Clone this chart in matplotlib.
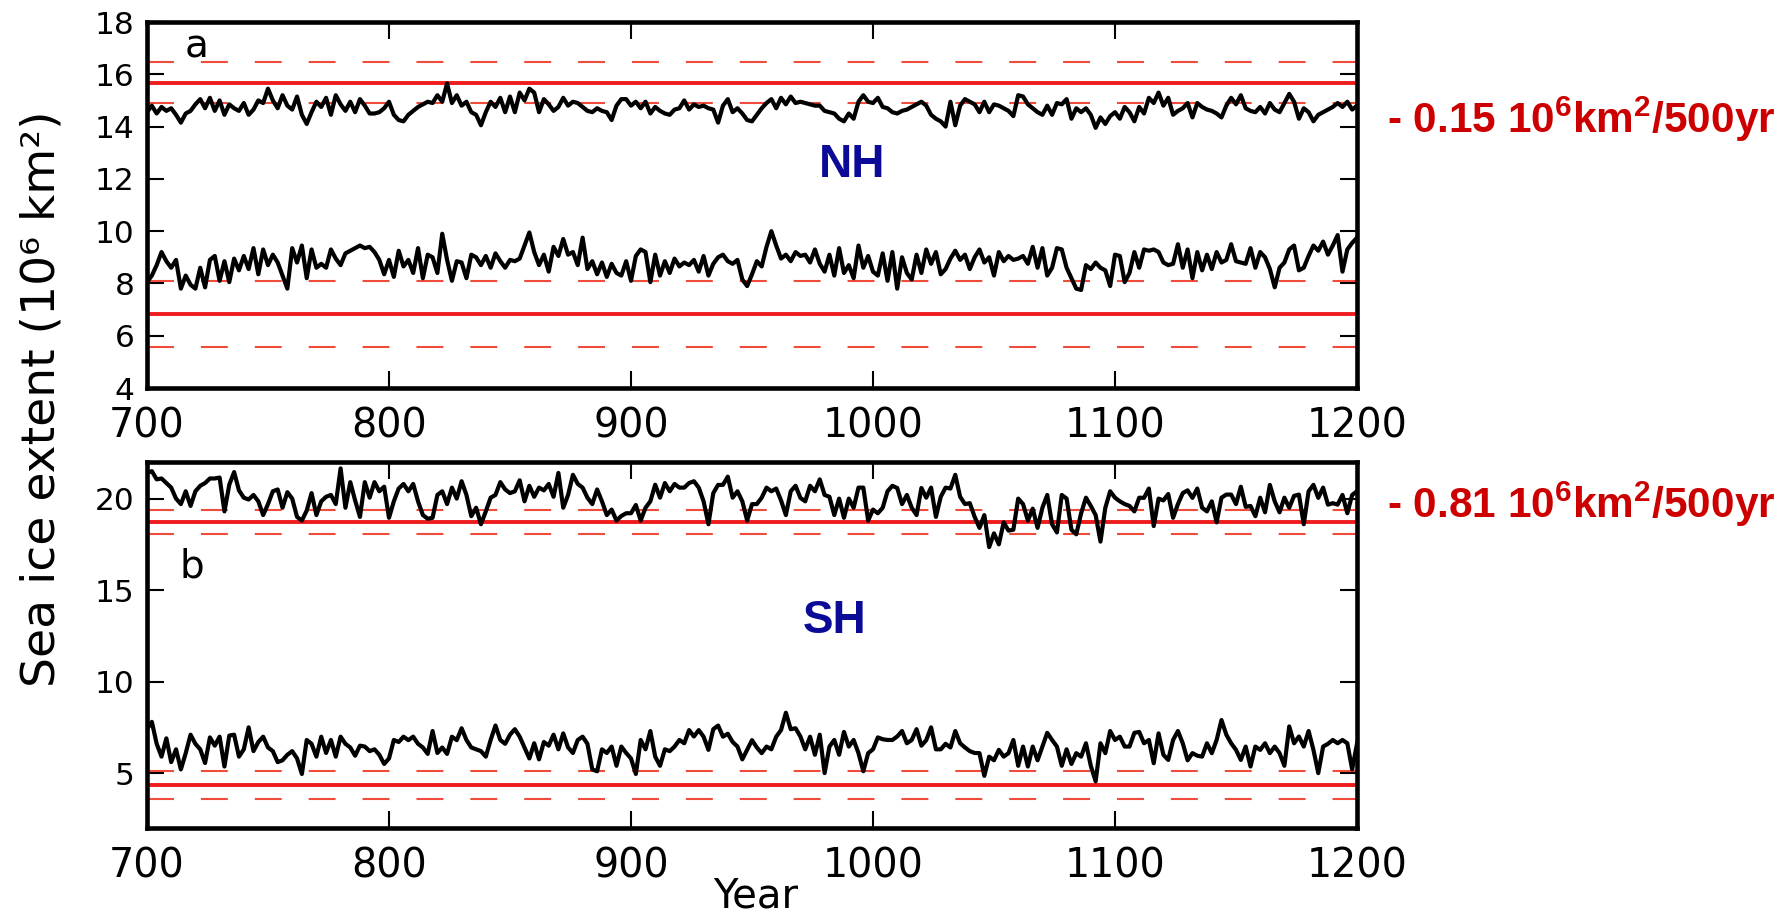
import numpy as np
import matplotlib
matplotlib.use("Agg")
import matplotlib.pyplot as plt

W, H = 1787, 918

# ---------------- data (2-year steps, 700..1200) ----------------
nh_upper = [
14.55,14.80,14.50,14.75,14.60,14.70,14.45,14.15,14.50,14.60,14.85,15.05,14.70,15.10,14.60,15.00,
14.45,14.85,14.70,14.60,14.90,14.45,14.65,15.00,14.90,15.45,15.00,14.70,15.20,14.80,14.65,15.15,
14.45,14.10,14.55,14.95,14.75,15.10,14.45,15.20,14.85,14.60,14.95,14.55,15.05,14.80,14.50,14.50,
14.55,14.70,14.95,14.45,14.25,14.20,14.45,14.60,14.75,14.85,14.95,14.90,15.20,14.95,15.65,14.90,
15.20,14.80,14.95,14.55,14.45,14.05,14.55,14.95,14.75,15.10,14.55,15.15,14.55,15.30,15.00,15.45,
15.30,14.55,15.05,14.85,14.60,14.75,15.10,14.80,14.95,14.90,14.75,14.60,14.55,14.70,14.60,14.55,
14.25,14.80,15.05,15.05,14.80,14.95,14.70,14.95,14.50,14.75,14.60,14.50,14.45,14.65,14.70,15.00,
14.65,14.85,14.75,14.80,14.70,14.65,14.15,14.80,15.05,14.55,14.70,14.50,14.25,14.20,14.45,14.70,
14.90,15.05,14.70,15.10,14.85,15.15,14.90,14.95,14.90,14.85,14.80,14.80,14.60,14.55,14.50,14.30,
14.20,14.50,14.30,14.95,15.20,14.95,14.90,15.10,14.75,14.70,14.55,14.50,14.60,14.65,14.75,14.85,
14.95,14.80,14.45,14.30,14.20,14.00,14.95,14.05,14.80,15.05,14.95,14.85,14.55,14.95,14.55,14.85,
14.80,14.70,14.60,14.40,15.20,15.15,14.85,14.70,14.55,14.45,14.80,14.45,14.90,14.85,15.05,14.30,
14.70,14.55,14.70,14.45,13.95,14.35,14.10,14.40,14.55,14.30,14.75,14.55,14.20,14.75,14.50,15.10,
14.90,15.30,14.80,15.10,14.45,14.60,14.70,14.90,14.35,14.90,14.75,14.65,14.60,14.50,14.35,14.80,
15.10,14.85,15.20,14.70,14.60,14.55,14.75,14.50,14.90,14.65,14.55,14.90,15.25,14.95,14.30,14.70,
14.55,14.20,14.45,14.55,14.65,14.75,14.90,14.75,14.95,14.65,14.80]

nh_lower = [
8.05,8.30,8.70,9.20,8.85,8.60,8.90,7.80,8.30,7.95,7.80,8.60,7.85,8.90,9.05,8.10,
8.85,8.05,8.95,8.50,9.05,8.55,9.35,8.35,9.30,8.70,9.10,8.80,8.30,7.80,9.35,8.80,
9.45,8.20,9.30,8.60,8.75,8.60,9.30,8.95,8.70,9.15,9.25,9.35,9.45,9.35,9.40,9.20,
8.90,8.35,8.90,8.25,9.25,8.65,8.90,8.40,9.35,8.20,9.10,9.00,8.40,9.90,8.90,8.10,
8.85,8.80,8.20,9.10,9.00,8.70,9.05,8.60,9.15,8.85,8.60,8.90,8.85,8.95,9.45,9.95,
9.20,8.70,9.10,8.45,9.40,9.05,9.70,9.10,9.20,8.70,9.75,8.55,8.85,8.35,8.80,8.25,
8.75,8.40,8.30,8.85,8.10,9.05,9.30,9.20,8.05,9.10,8.30,8.85,8.40,8.95,8.65,8.80,
8.70,8.90,8.45,9.05,8.30,8.75,9.00,9.10,8.85,8.75,8.90,8.15,7.90,8.35,8.85,8.65,
9.40,10.00,9.45,8.95,9.10,8.85,9.20,9.05,9.10,8.80,9.30,8.75,8.45,9.10,8.30,9.35,
8.40,8.70,8.20,9.45,8.60,9.05,8.45,8.30,9.15,8.10,9.20,7.80,9.00,8.40,8.15,9.10,
8.40,9.30,8.75,9.20,8.35,8.55,8.95,9.25,8.90,9.10,8.55,9.00,9.30,8.80,9.00,8.30,
9.20,8.85,9.05,8.90,8.95,9.05,8.75,9.40,8.60,9.35,8.30,8.60,9.35,9.30,8.60,8.20,
7.80,7.75,8.70,8.55,8.80,8.60,8.50,7.90,9.10,9.05,8.05,8.40,9.20,8.60,9.30,9.25,
9.30,9.20,8.80,8.70,8.75,9.50,8.60,9.30,8.20,9.20,8.50,9.10,8.55,9.20,8.80,8.90,
9.50,8.85,8.80,8.75,9.35,8.60,9.20,9.00,8.55,7.85,8.60,8.80,9.30,9.45,8.50,8.60,
9.05,9.45,9.25,9.60,9.10,9.45,9.85,8.45,9.30,9.55,9.75]

sh_upper = [
21.40,21.50,21.05,21.10,20.85,20.60,20.00,19.70,20.40,19.60,20.40,20.70,20.85,21.10,21.10,21.15,
19.30,20.76,21.45,20.45,20.05,19.95,20.20,19.85,19.10,19.70,20.40,20.50,19.50,20.35,20.00,19.00,
18.80,19.35,20.30,19.10,19.85,20.10,20.20,19.70,21.65,19.50,20.90,19.90,19.00,20.90,20.05,20.90,
20.40,20.65,18.95,19.85,20.55,20.80,20.40,20.80,19.85,19.10,18.90,18.95,20.20,20.40,19.70,20.60,
20.00,20.95,20.20,19.04,19.50,18.60,19.30,20.05,20.20,20.90,20.50,20.30,20.40,21.00,19.85,20.70,
20.10,20.60,20.45,20.80,20.10,21.40,19.50,20.20,21.30,20.80,20.60,20.05,19.70,20.50,19.85,19.10,
19.40,18.80,19.05,19.20,19.20,19.65,18.80,19.50,19.85,20.76,20.05,20.85,20.40,20.80,20.60,20.60,
20.85,20.95,20.60,19.85,18.60,20.30,20.75,20.75,21.20,20.05,20.40,19.85,18.80,19.70,19.70,20.05,
20.60,20.40,20.55,19.90,19.10,20.40,20.70,20.04,19.85,20.70,20.40,21.05,20.20,20.10,19.10,20.00,
18.95,20.00,19.50,20.60,20.60,18.80,19.40,19.20,19.50,20.40,20.70,20.58,19.70,20.20,19.50,19.10,
20.58,20.05,20.60,19.00,20.10,20.60,20.55,21.30,20.10,19.70,19.75,19.00,18.40,19.10,17.35,18.10,
17.50,18.70,18.25,18.30,20.00,19.70,18.80,19.45,18.40,19.50,20.20,18.60,18.15,20.20,20.00,18.30,
18.05,19.20,20.05,19.60,19.10,17.65,19.50,20.40,20.05,19.85,19.70,19.60,19.30,20.05,20.04,20.55,
18.50,20.00,19.90,20.25,18.95,19.70,20.30,20.45,20.04,20.55,19.50,19.30,19.85,18.70,20.05,20.22,
20.22,19.70,20.65,19.55,19.60,19.04,20.05,19.25,20.75,19.85,19.25,20.05,19.50,20.15,20.22,18.60,
20.40,20.75,20.04,20.60,19.67,19.75,19.67,20.20,19.20,20.20,20.40]

sh_lower = [
7.40,7.80,6.60,5.90,6.90,5.60,6.30,5.20,6.09,7.10,6.60,6.30,5.55,6.95,6.50,6.99,
5.36,7.05,7.10,5.90,6.30,7.50,6.20,6.70,6.99,6.40,6.20,5.60,5.70,6.00,6.20,5.80,
4.95,6.81,6.60,5.90,6.99,6.10,6.81,5.90,6.99,6.60,6.40,5.95,6.50,6.45,6.20,6.30,
6.00,5.50,5.80,6.81,6.70,6.99,6.80,6.99,6.60,6.40,6.05,7.30,6.10,6.40,6.05,6.99,
6.80,7.45,6.81,6.40,6.30,6.20,5.90,6.81,7.60,6.81,6.60,7.10,7.40,6.99,6.40,5.80,
6.63,5.75,6.70,6.50,7.10,6.30,7.17,6.40,6.10,6.81,6.99,6.60,5.20,5.10,6.30,6.10,
6.45,5.40,6.45,6.10,5.80,4.95,6.81,6.30,7.30,5.90,5.40,6.30,6.20,6.45,6.81,6.63,
7.35,7.00,7.35,6.99,6.27,7.40,7.60,6.99,7.15,6.70,6.45,5.75,6.27,6.80,6.40,6.09,
6.45,6.30,6.99,7.35,8.30,7.40,7.45,7.00,6.30,6.99,6.00,7.10,5.00,6.45,6.81,6.00,
7.25,6.45,6.81,6.09,5.10,6.09,6.30,6.95,6.85,6.81,6.81,7.00,7.30,6.63,6.81,7.40,
6.50,6.80,7.50,6.30,6.30,6.60,6.40,7.30,6.63,6.40,6.20,6.10,6.09,4.85,5.90,5.70,
6.27,5.90,6.09,6.81,5.40,6.45,5.36,6.45,5.70,6.45,7.20,6.81,6.45,5.40,6.30,5.50,
6.09,5.90,6.63,5.40,4.55,6.63,6.09,7.30,6.81,6.99,6.45,6.45,7.20,7.25,6.63,6.81,
5.54,7.17,6.00,5.72,6.81,7.30,6.63,5.70,6.09,5.95,5.90,6.63,6.09,6.81,7.90,7.10,
6.63,6.27,5.72,6.45,5.36,6.45,6.27,6.63,6.09,6.45,6.09,5.40,7.55,6.63,7.00,6.45,
7.30,6.27,5.00,6.45,6.60,6.81,6.63,6.81,6.63,5.20,6.60]

# reference levels (solid = mean, dashed = mean +/- spread)
nh_ref_mean = [15.68, 6.84]
nh_ref_spread = [0.785, 1.26]
sh_ref_mean = [18.71, 4.35]
sh_ref_spread = [0.65, 0.79]

x_ticks = [700, 800, 900, 1000, 1100, 1200]
nh_yticks = [4, 6, 8, 10, 12, 14, 16, 18]
sh_yticks = [5, 10, 15, 20]
trend_labels = [r"- 0.15 10$^{6}$km$^{2}$/500yr", r"- 0.81 10$^{6}$km$^{2}$/500yr"]

# ---------------- style ----------------
plt.rcParams["lines.scale_dashes"] = False
plt.rcParams["mathtext.fontset"] = "custom"
plt.rcParams["mathtext.rm"] = "Liberation Sans:bold"
plt.rcParams["mathtext.it"] = "Liberation Sans:bold"
plt.rcParams["mathtext.bf"] = "Liberation Sans:bold"

RED = "#ee1c1c"
RED_D = "#f04c3c"
DARKRED = "#cc0000"
NAVY = "#0b0b98"

fig = plt.figure(figsize=(W / 100, H / 100), dpi=100)
fig.patch.set_facecolor("white")


def px(x, y):
    return x / W, 1 - y / H


def style_axes(ax, ylim, yticks):
    ax.set_xlim(700, 1200)
    ax.set_ylim(*ylim)
    ax.set_xticks(x_ticks)
    ax.set_yticks(yticks)
    ax.tick_params(direction="in", length=12, width=1.5, top=True, right=True)
    ax.tick_params(axis="x", labelsize=28.5, pad=13)
    ax.tick_params(axis="y", labelsize=22.5, pad=9)
    for s in ax.spines.values():
        s.set_linewidth(3.3)


def draw_refs(ax, means, spreads):
    for m, s in zip(means, spreads):
        ax.axhline(m, color=RED, lw=2.8, zorder=2)
        for v in (m - s, m + s):
            ax.axhline(v, color=RED_D, lw=1.5, dashes=(19.4, 19.4), zorder=2)


ax_a = fig.add_axes([147 / W, 1 - 388 / H, 1210 / W, 366 / H])
ax_b = fig.add_axes([147 / W, 1 - 828 / H, 1210 / W, 366 / H])

style_axes(ax_a, (4, 18), nh_yticks)
style_axes(ax_b, (2, 22), sh_yticks)

draw_refs(ax_a, nh_ref_mean, nh_ref_spread)
draw_refs(ax_b, sh_ref_mean, sh_ref_spread)

for ax, series in ((ax_a, (nh_upper, nh_lower)), (ax_b, (sh_upper, sh_lower))):
    for vals in series:
        yrs = np.linspace(700, 1200, len(vals))
        ax.plot(yrs, vals, color="black", lw=3.0, zorder=3, solid_joinstyle="round")

# panel letters
fig.text(*px(197, 57), "a", fontsize=28, ha="center", va="baseline")
fig.text(*px(192, 577), "b", fontsize=28, ha="center", va="baseline")

# hemisphere labels
fig.text(*px(852, 177), "NH", fontsize=33, fontweight="bold", color=NAVY,
         family="Liberation Sans", ha="center", va="baseline")
fig.text(*px(835, 633), "SH", fontsize=33, fontweight="bold", color=NAVY,
         family="Liberation Sans", ha="center", va="baseline")

# trend annotations
fig.text(*px(1387, 133), trend_labels[0], fontsize=30.5, fontweight="bold", color=DARKRED,
         family="Liberation Sans", ha="left", va="baseline", math_fontfamily="custom")
fig.text(*px(1387, 518), trend_labels[1], fontsize=30.5, fontweight="bold", color=DARKRED,
         family="Liberation Sans", ha="left", va="baseline", math_fontfamily="custom")

# axis labels
fig.text(*px(42, 399), "Sea ice extent (10\u2076 km\u00b2)", fontsize=34, rotation=90,
         ha="center", va="center")
fig.text(*px(756, 916), "Year", fontsize=29, ha="center", va="bottom")

fig.savefig("out.png", dpi=100, facecolor="white")
